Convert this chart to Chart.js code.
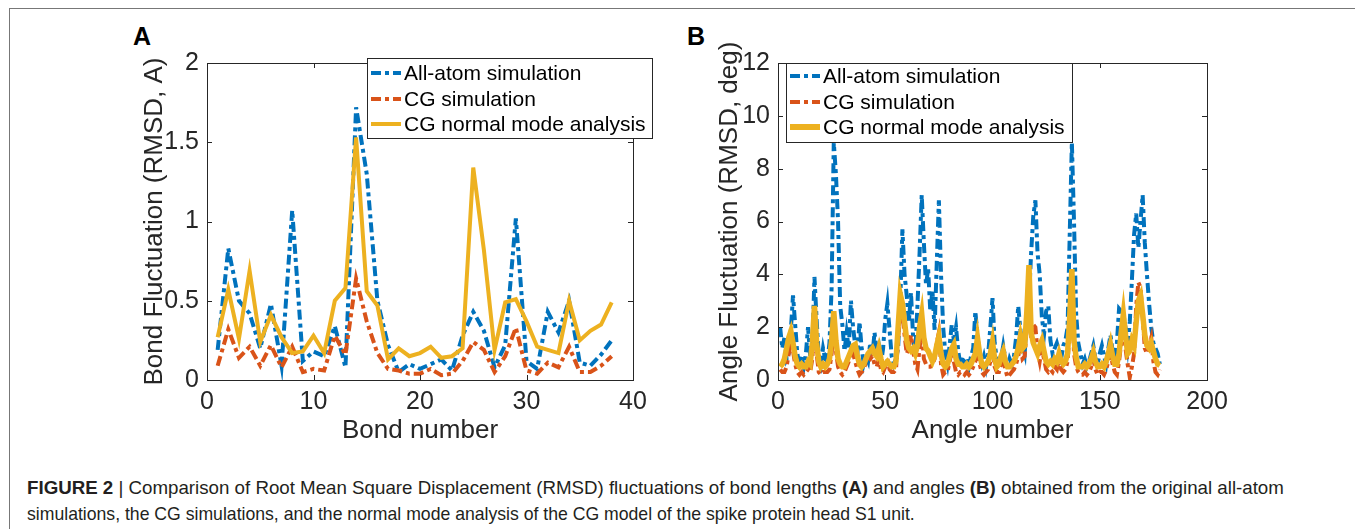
<!DOCTYPE html>
<html>
<head>
<meta charset="utf-8">
<script src="https://cdn.jsdelivr.net/npm/chart.js@4.4.1/dist/chart.umd.min.js"></script>
<style>
  html, body { margin: 0; padding: 0; background: #fff; }
  body { width: 1355px; height: 529px; position: relative; overflow: hidden; font-family: "Liberation Sans", Arial, sans-serif; }
  #frame { position: absolute; left: 9px; top: 8px; width: 1400px; height: 600px; border-left: 1px solid #777; border-top: 1px solid #777; }
  canvas { position: absolute; }
  #chartA { left: 120px; top: 40px; }
  #chartB { left: 690px; top: 40px; }
  .panel { position: absolute; font-weight: bold; font-size: 25px; line-height: 25px; color: #000; }
  .caption { position: absolute; left: 27px; font-size: 18.5px; line-height: 20px; color: #231f20; white-space: nowrap; transform-origin: 0 0; font-family: "Liberation Sans Narrow", "Liberation Sans", Arial, sans-serif; }
</style>
</head>
<body>
<div id="frame"></div>
<div class="panel" style="left:133px;top:24px">A</div>
<div class="panel" style="left:687px;top:24px">B</div>
<canvas id="chartA" width="560" height="420"></canvas>
<canvas id="chartB" width="560" height="420"></canvas>
<div class="caption" id="cap1" style="top:478px"><b>FIGURE 2</b> | Comparison of Root Mean Square Displacement (RMSD) fluctuations of bond lengths <b>(A)</b> and angles <b>(B)</b> obtained from the original all-atom</div>
<div class="caption" id="cap2" style="top:504px">simulations, the CG simulations, and the normal mode analysis of the CG model of the spike protein head S1 unit.</div>
<script>
// ---- Panel A: bond fluctuations (38 bonds)
var bondAllAtom = [0.19, 0.83, 0.50, 0.42, 0.20, 0.48, 0.09, 1.07, 0.12, 0.18,
  0.15, 0.34, 0.08, 1.72, 1.30, 0.50, 0.22, 0.05, 0.10, 0.07,
  0.10, 0.13, 0.06, 0.28, 0.43, 0.31, 0.08, 0.22, 1.02, 0.12,
  0.07, 0.43, 0.30, 0.50, 0.11, 0.09, 0.16, 0.25];
var bondCG = [0.09, 0.32, 0.14, 0.21, 0.09, 0.22, 0.08, 0.21, 0.05, 0.07,
  0.06, 0.28, 0.16, 0.64, 0.37, 0.17, 0.07, 0.06, 0.04, 0.04,
  0.07, 0.03, 0.04, 0.12, 0.24, 0.19, 0.05, 0.15, 0.33, 0.06,
  0.04, 0.11, 0.08, 0.21, 0.05, 0.05, 0.09, 0.15];
var bondNMA = [0.27, 0.57, 0.26, 0.69, 0.24, 0.41, 0.27, 0.17, 0.18, 0.28,
  0.17, 0.50, 0.58, 1.53, 0.56, 0.47, 0.13, 0.20, 0.15, 0.17,
  0.21, 0.14, 0.15, 0.20, 1.34, 0.82, 0.19, 0.49, 0.51, 0.37,
  0.21, 0.19, 0.17, 0.50, 0.25, 0.31, 0.35, 0.49];
var bondXTicks = [0, 10, 20, 30, 40];
var bondYTicks = [0, 0.5, 1, 1.5, 2];

// ---- Panel B: angle fluctuations (178 angles)
var angleAllAtom = [2.0, 1.2, 1.6, 0.8, 1.0, 1.9, 3.2, 2.1, 1.0, 0.6,
  0.9, 0.5, 1.0, 2.0, 0.9, 1.2, 3.9, 2.3, 0.9, 0.6,
  1.2, 0.8, 0.7, 1.4, 3.5, 9.0, 7.8, 6.0, 2.8, 2.1,
  1.1, 1.8, 1.2, 3.0, 2.0, 1.3, 1.0, 2.2, 1.2, 0.6,
  0.9, 0.7, 1.4, 0.9, 1.8, 1.1, 1.3, 0.6, 1.2, 2.3,
  2.9, 1.9, 0.9, 0.6, 0.8, 1.2, 3.0, 5.7, 4.0, 3.2,
  2.2, 3.3, 1.6, 1.0, 2.8, 4.8, 7.0, 5.2, 3.6, 4.2,
  2.6, 3.4, 1.9, 4.4, 6.8, 4.0, 2.0, 1.0, 0.6, 1.3,
  2.1, 1.5, 2.0, 1.1, 0.6, 0.9, 0.4, 0.8, 0.5, 0.9,
  1.2, 2.6, 1.7, 0.9, 0.6, 0.9, 0.5, 1.0, 2.0, 3.1,
  1.4, 0.8, 0.5, 0.8, 1.3, 0.8, 0.4, 0.8, 0.6, 0.9,
  1.6, 2.8, 1.9, 1.3, 1.0, 2.4, 3.0, 4.8, 6.2, 6.8,
  4.8, 4.0, 2.4, 1.7, 2.6, 2.8, 1.5, 1.0, 1.2, 1.4,
  1.1, 0.8, 1.3, 1.5, 2.0, 5.5, 9.0, 6.0, 2.5, 1.4,
  1.0, 0.6, 0.8, 0.5, 0.7, 1.0, 1.3, 0.8, 0.6, 1.0,
  1.3, 0.9, 0.6, 1.2, 1.7, 1.1, 0.7, 1.4, 2.7, 2.6,
  2.5, 2.0, 1.3, 2.2, 3.8, 5.5, 6.3, 5.0, 6.0, 7.0,
  5.2, 4.0, 2.9, 2.0, 1.4, 1.2, 1.0, 0.6];
var angleCG = [0.4, 0.3, 0.3, 0.5, 1.0, 1.4, 1.1, 0.6, 0.3, 0.2,
  0.3, 0.2, 0.3, 0.4, 0.3, 0.8, 2.3, 1.0, 0.3, 0.2,
  0.3, 0.3, 0.3, 0.4, 1.0, 2.1, 1.1, 0.5, 0.3, 0.2,
  0.3, 0.5, 0.7, 1.15, 1.0, 0.7, 0.4, 0.2, 0.3, 0.4,
  0.7, 0.9, 0.8, 0.9, 0.6, 0.5, 0.8, 0.4, 0.3, 0.5,
  0.8, 0.4, 0.3, 0.3, 0.4, 1.5, 2.8, 2.5, 1.7, 1.0,
  1.2, 1.7, 1.1, 0.6, 0.4, 1.2, 1.9, 0.8, 0.6, 0.5,
  0.5, 0.6, 0.8, 1.4, 1.8, 0.6, 0.2, 0.3, 0.3, 0.7,
  1.1, 0.7, 0.3, 0.2, 0.3, 0.3, 0.2, 0.3, 0.2, 0.3,
  0.5, 0.7, 1.3, 0.6, 0.3, 0.2, 0.3, 0.4, 0.7, 1.1,
  0.5, 0.3, 0.3, 0.6, 0.8, 0.4, 0.1, 0.2, 0.3, 0.4,
  0.6, 0.9, 1.3, 0.8, 0.9, 2.0, 3.8, 1.6, 2.1, 2.0,
  1.1, 0.7, 1.2, 0.8, 0.4, 0.3, 0.4, 0.3, 0.5, 0.4,
  0.8, 0.4, 0.3, 0.4, 0.7, 2.0, 3.8, 1.0, 0.5, 0.3,
  0.2, 0.2, 0.3, 0.2, 0.3, 0.5, 0.8, 0.4, 0.2, 0.3,
  0.3, 0.2, 0.4, 0.7, 1.0, 0.6, 0.3, 0.2, 0.7, 1.4,
  2.2, 1.2, 0.6, 0.1, 0.5, 1.0, 2.8, 3.7, 3.5, 2.4,
  1.2, 1.0, 1.3, 1.6, 0.7, 0.3, 0.2, 0.4];
var angleNMA = [0.5, 0.6, 0.8, 1.2, 1.6, 1.85, 1.4, 0.9, 0.6, 0.5,
  0.6, 0.5, 0.5, 0.7, 0.6, 1.4, 2.8, 1.4, 0.7, 0.5,
  0.6, 0.5, 0.6, 0.8, 1.5, 2.6, 1.5, 0.8, 0.6, 0.5,
  0.5, 0.7, 0.9, 1.1, 1.3, 1.35, 0.9, 0.6, 0.5, 0.6,
  0.8, 1.0, 1.1, 1.2, 1.0, 0.9, 1.2, 0.8, 0.5, 0.6,
  0.7, 0.6, 0.5, 0.5, 0.7, 2.0, 3.25, 2.9, 2.2, 1.5,
  1.2, 1.1, 1.2, 1.0, 1.3, 2.0, 2.5, 1.6, 1.2, 1.1,
  0.9, 0.7, 0.9, 1.3, 1.65, 1.0, 0.6, 0.5, 0.6, 0.9,
  1.2, 1.35, 0.8, 0.6, 0.6, 0.5, 0.5, 0.6, 0.5, 0.6,
  0.8, 1.0, 1.6, 1.0, 0.6, 0.5, 0.6, 0.7, 1.0, 1.45,
  0.8, 0.5, 0.6, 0.9, 1.1, 0.7, 0.5, 0.5, 0.6, 0.7,
  0.9, 1.2, 1.65, 1.2, 1.3, 2.6, 4.35, 1.8, 1.4, 1.2,
  1.0, 1.3, 1.5, 1.1, 0.7, 0.6, 0.7, 0.6, 0.8, 0.7,
  1.0, 0.7, 0.6, 0.7, 1.0, 2.4, 4.2, 1.5, 0.85, 0.5,
  0.5, 0.5, 0.6, 0.5, 0.6, 0.8, 1.05, 0.7, 0.5, 0.5,
  0.6, 0.5, 0.7, 1.0, 1.35, 0.9, 0.6, 0.6, 1.0, 1.8,
  2.5, 1.7, 1.0, 1.1, 1.5, 1.3, 2.2, 3.0, 3.2, 2.5,
  1.7, 1.3, 1.2, 1.4, 1.1, 0.8, 0.6, 0.55];
var angleXTicks = [0, 50, 100, 150, 200];
var angleYTicks = [0, 2, 4, 6, 8, 10, 12];

var seriesNames = ['All-atom simulation', 'CG simulation', 'CG normal mode analysis'];
var colours = ['#0072BD', '#D95319', '#EDB120'];
var axisColour = '#262626';

// index -> {x, y}, numbering starts at 1
function points(values) {
  return values.map(function (v, i) { return {x: i + 1, y: v}; });
}

// MATLAB-like box: full frame with inward ticks on all four sides
var boxAxes = {
  id: 'boxAxes',
  afterDatasetsDraw: function (chart) {
    var ctx = chart.ctx, a = chart.chartArea;
    var xs = chart.scales.x, ys = chart.scales.y;
    var len = 5;
    ctx.save();
    ctx.strokeStyle = axisColour;
    ctx.lineWidth = 1;
    ctx.strokeRect(Math.round(a.left) + 0.5, Math.round(a.top) + 0.5,
      Math.round(a.right - a.left), Math.round(a.bottom - a.top));
    ctx.beginPath();
    xs.ticks.forEach(function (t) {
      var px = Math.round(xs.getPixelForValue(t.value)) + 0.5;
      ctx.moveTo(px, a.bottom); ctx.lineTo(px, a.bottom - len);
      ctx.moveTo(px, a.top); ctx.lineTo(px, a.top + len);
    });
    ys.ticks.forEach(function (t) {
      var py = Math.round(ys.getPixelForValue(t.value)) + 0.5;
      ctx.moveTo(a.left, py); ctx.lineTo(a.left + len, py);
      ctx.moveTo(a.right, py); ctx.lineTo(a.right - len, py);
    });
    ctx.stroke();
    ctx.restore();
  }
};

// legend box drawn inside the axes, styled from the datasets
var boxLegend = {
  id: 'boxLegend',
  afterDraw: function (chart, args, o) {
    var ctx = chart.ctx;
    ctx.save();
    ctx.fillStyle = '#fff';
    ctx.fillRect(o.x, o.y, o.w, o.h);
    ctx.strokeStyle = axisColour;
    ctx.lineWidth = 1;
    ctx.strokeRect(o.x + 0.5, o.y + 0.5, o.w, o.h);
    ctx.font = o.fontSize + 'px "Liberation Sans", Arial, sans-serif';
    ctx.textBaseline = 'middle';
    chart.data.datasets.forEach(function (ds, i) {
      var y = o.rows[i];
      ctx.strokeStyle = ds.borderColor;
      ctx.lineWidth = ds.legendWidth || ds.borderWidth;
      ctx.setLineDash(ds.borderDash || []);
      ctx.beginPath();
      ctx.moveTo(o.lineX0, y);
      ctx.lineTo(o.lineX1, y);
      ctx.stroke();
      ctx.setLineDash([]);
      ctx.fillStyle = '#000';
      ctx.fillText(ds.label, o.textX, y + 1);
    });
    ctx.restore();
  }
};

function makeChart(id, series, widths, xTicks, yTicks, xTitle, yTitle, fit, legend) {
  var dashes = [[10, 4, 4, 4], [10, 4, 4, 4], []];
  var datasets = series.map(function (values, i) {
    return {
      label: seriesNames[i],
      data: points(values),
      borderColor: colours[i],
      borderWidth: widths[i],
      borderDash: dashes[i],
      legendWidth: legend.widths[i],
      pointRadius: 0,
      tension: 0,
      fill: false,
      order: 3 - i
    };
  });
  var tickFont = {family: '"Liberation Sans", Arial, sans-serif', size: 25};
  var titleFont = {family: '"Liberation Sans", Arial, sans-serif', size: 26};
  // plain number labels: 0, 0.5, 1, 1.5, 2
  var plain = function (value) { return String(value); };
  return new Chart(document.getElementById(id), {
    type: 'line',
    data: {datasets: datasets},
    options: {
      responsive: false,
      animation: false,
      devicePixelRatio: 1,
      layout: {padding: {top: fit.top, right: fit.right, left: 0, bottom: 0}},
      plugins: {legend: {display: false}, tooltip: {enabled: false}, boxLegend: legend},
      scales: {
        x: {
          type: 'linear',
          min: xTicks[0],
          max: xTicks[xTicks.length - 1],
          afterBuildTicks: function (scale) {
            scale.ticks = xTicks.map(function (v) { return {value: v}; });
          },
          afterFit: function (scale) { scale.height = fit.xHeight; },
          grid: {display: false, drawTicks: false},
          border: {display: false},
          ticks: {color: axisColour, font: tickFont, padding: 7, maxRotation: 0, callback: plain},
          title: {display: true, text: xTitle, color: axisColour, font: titleFont, padding: {top: 0, bottom: fit.xTitlePad}}
        },
        y: {
          min: yTicks[0],
          max: yTicks[yTicks.length - 1],
          afterBuildTicks: function (scale) {
            scale.ticks = yTicks.map(function (v) { return {value: v}; });
          },
          afterFit: function (scale) { scale.width = fit.yWidth; },
          grid: {display: false, drawTicks: false},
          border: {display: false},
          ticks: {color: axisColour, font: tickFont, padding: 8, callback: plain},
          title: {display: true, text: yTitle, color: axisColour, font: titleFont, padding: {top: fit.yTitlePad, bottom: 0}}
        }
      }
    },
    plugins: [boxAxes, boxLegend]
  });
}

makeChart('chartA', [bondAllAtom, bondCG, bondNMA], [4, 4, 4],
  bondXTicks, bondYTicks, 'Bond number', 'Bond Fluctuation (RMSD, A)',
  {top: 14, right: 47, xHeight: 80, yWidth: 87, xTitlePad: 14, yTitlePad: 19},
  {x: 247, y: 18, w: 285, h: 80, rows: [33, 59, 84], lineX0: 251, lineX1: 281, textX: 284, fontSize: 21, widths: [4, 4, 4]});

makeChart('chartB', [angleAllAtom, angleCG, angleNMA], [4, 4, 5.5],
  angleXTicks, angleYTicks, 'Angle number', 'Angle Fluctuation (RMSD, deg)',
  {top: 14, right: 43, xHeight: 80, yWidth: 88, xTitlePad: 14, yTitlePad: 24},
  {x: 96, y: 23, w: 286, h: 79, rows: [36, 62, 87], lineX0: 100, lineX1: 130, textX: 133, fontSize: 21, widths: [4, 4, 6]});

// squeeze caption lines to the measured widths of the reference
[['cap1', 1257], ['cap2', 888]].forEach(function (c) {
  var el = document.getElementById(c[0]);
  el.style.transform = 'scaleX(' + (c[1] / el.offsetWidth) + ')';
});
</script>
</body>
</html>
